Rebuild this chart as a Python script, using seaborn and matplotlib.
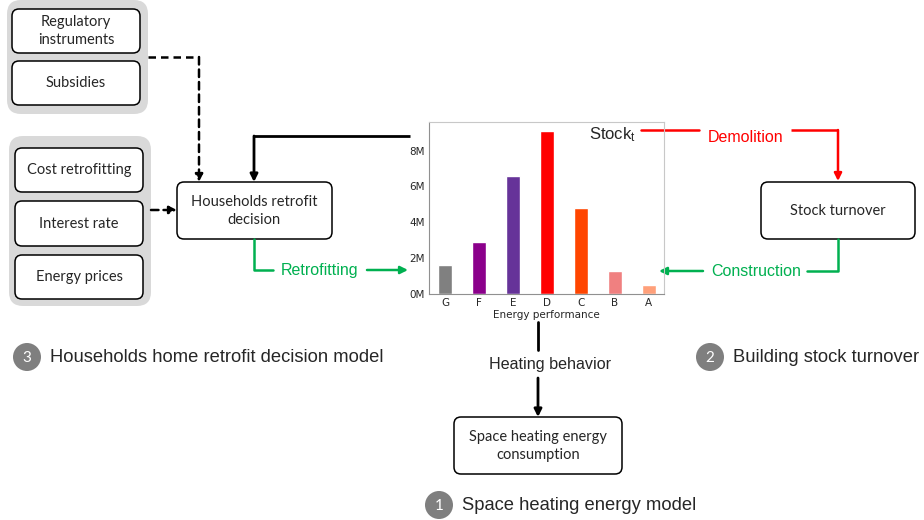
import matplotlib
matplotlib.use("Agg")
import matplotlib.pyplot as plt
from matplotlib.patches import FancyBboxPatch, Circle
from matplotlib.ticker import FuncFormatter
import seaborn as sns

# bar chart data (stock in millions of dwellings)
classes = ["G", "F", "E", "D", "C", "B", "A"]
stock_m = [1.6, 2.9, 6.6, 9.1, 4.8, 1.3, 0.5]

# diagram labels
policy_labels = ["Regulatory\ninstruments", "Subsidies"]
driver_labels = ["Cost retrofitting", "Interest rate", "Energy prices"]
model_labels = ["Space heating energy model", "Building stock turnover",
                "Households home retrofit decision model"]

palette = ["#808080", "#8b008b", "#663399", "#ff0000", "#ff4500", "#f08080", "#ffa07a"]
GREEN = "#00b050"
RED = "#ff0000"

sns.set_style("white")
plt.rcParams["mathtext.fontset"] = "custom"
plt.rcParams["mathtext.rm"] = "Liberation Sans"
plt.rcParams["mathtext.it"] = "Liberation Sans"

fig = plt.figure(figsize=(9.24, 5.2), dpi=100)
bg = fig.add_axes([0, 0, 1, 1])
bg.set_xlim(0, 924)
bg.set_ylim(520, 0)
bg.axis("off")

ARIAL = "Liberation Sans"
CAL = "Lato"


def rbox(x0, y0, x1, y1, r=7, fc="white", ec="black", lw=1.1, z=2):
    bg.add_patch(FancyBboxPatch((x0, y0), x1 - x0, y1 - y0,
                                boxstyle=f"round,pad=0,rounding_size={r}",
                                fc=fc, ec=ec, lw=lw, zorder=z))


def path(pts, color, lw=1.8, ls="-"):
    xs = [p[0] for p in pts[:-1]]
    ys = [p[1] for p in pts[:-1]]
    if len(pts) > 2:
        bg.plot(xs, ys, color=color, lw=lw, ls=ls, solid_capstyle="butt")
    bg.annotate("", xy=pts[-1], xytext=pts[-2],
                arrowprops=dict(arrowstyle="-|>", color=color, lw=lw, ls=ls,
                                mutation_scale=11, shrinkA=0, shrinkB=0))


# left grey groups
rbox(7, 0, 148, 114, r=14, fc="#d9d9d9", ec="none", z=1)
rbox(9, 136, 151, 306, r=14, fc="#d9d9d9", ec="none", z=1)
for lab, (y0, y1) in zip(policy_labels, [(9, 53), (61, 105)]):
    rbox(12, y0, 140, y1)
    bg.text(76, (y0 + y1) / 2, lab, ha="center", va="center", fontsize=10.5,
            family=CAL, zorder=3, linespacing=1.35)
for lab, (y0, y1) in zip(driver_labels, [(148, 192), (201, 246), (255, 299)]):
    rbox(15, y0, 143, y1)
    bg.text(79, (y0 + y1) / 2, lab, ha="center", va="center", fontsize=10.5,
            family=CAL, zorder=3)

# households box
rbox(177, 182, 332, 239)
bg.text(254, 211, "Households retrofit\ndecision", ha="center", va="center",
        fontsize=10.5, family=CAL, linespacing=1.35, zorder=3)

# stock turnover box
rbox(761, 182, 915, 239)
bg.text(838, 211, "Stock turnover", ha="center", va="center", fontsize=10.5,
        family=CAL, zorder=3)

# consumption box
rbox(454, 417, 622, 474)
bg.text(538, 446, "Space heating energy\nconsumption", ha="center", va="center",
        fontsize=10.5, family=CAL, linespacing=1.35, zorder=3)

# dashed policy arrows
path([(148, 57), (199, 57), (199, 182)], "black", lw=1.8, ls=(0, (3, 2)))
path([(151, 210), (177, 210)], "black", lw=1.8, ls=(0, (3, 2)))

# stock feedback to households
path([(410, 136), (254, 136), (254, 182)], "black", lw=2)

# retrofitting
bg.plot([254, 254, 273], [239, 270, 270], color=GREEN, lw=1.8)
bg.text(320, 270, "Retrofitting", ha="center", va="center", fontsize=11.5,
        family=ARIAL, color=GREEN)
path([(367, 270), (408, 270)], GREEN)

# demolition
bg.plot([641, 699], [130, 130], color=RED, lw=1.8)
bg.text(746, 137, "Demolition", ha="center", va="center", fontsize=11.5,
        family=ARIAL, color=RED)
path([(791, 130), (838, 130), (838, 181)], RED)

# construction
bg.plot([838, 838, 807], [239, 271, 271], color=GREEN, lw=1.8)
bg.text(756, 271, "Construction", ha="center", va="center", fontsize=11.5,
        family=ARIAL, color=GREEN)
path([(703, 271), (659, 271)], GREEN)

# heating behavior
bg.plot([538, 538], [322, 350], color="black", lw=2)
bg.text(550, 365, "Heating behavior", ha="center", va="center", fontsize=11.6,
        family=ARIAL)
path([(538, 378), (538, 417)], "black", lw=2)

# numbered model labels
for num, lab, (cx, cy) in zip(["1", "2", "3"], model_labels,
                              [(439, 505), (710, 357), (27, 357)]):
    bg.add_patch(Circle((cx, cy), 14, fc="#7f7f7f", ec="none"))
    bg.text(cx, cy + 1, num, ha="center", va="center", color="white",
            fontsize=11, family=CAL)
    bg.text(cx + 23, cy, lab, ha="left", va="center", fontsize=13.2,
            family=ARIAL)

# stock bar chart
ax = fig.add_axes([429 / 924, (520 - 294) / 520, 235 / 924, 172 / 520])
ax.patch.set_alpha(0)
sns.barplot(x=classes, y=[v * 1e6 for v in stock_m], hue=classes,
            palette=palette, saturation=1, width=0.41, legend=False, ax=ax)
ax.set_xlim(-0.47, 6.45)
ax.set_ylim(0, 9.6e6)
ax.set_yticks([0, 2e6, 4e6, 6e6, 8e6])
ax.yaxis.set_major_formatter(FuncFormatter(lambda v, p: f"{int(round(v / 1e6))}M"))
ax.tick_params(labelsize=7.5, length=0, pad=3)
ax.set_xlabel("Energy performance", fontsize=7.5, labelpad=1)
ax.set_ylabel("")
for side, sp in ax.spines.items():
    sp.set_color("#c8c8c8" if side in ("top", "right") else "#909090")
    sp.set_linewidth(0.8)
ax.text(0.881, 0.925, "Stock$_\\mathrm{t}$", transform=ax.transAxes, ha="right",
        va="center", fontsize=12, family=ARIAL)

fig.savefig("out.png", dpi=100)
